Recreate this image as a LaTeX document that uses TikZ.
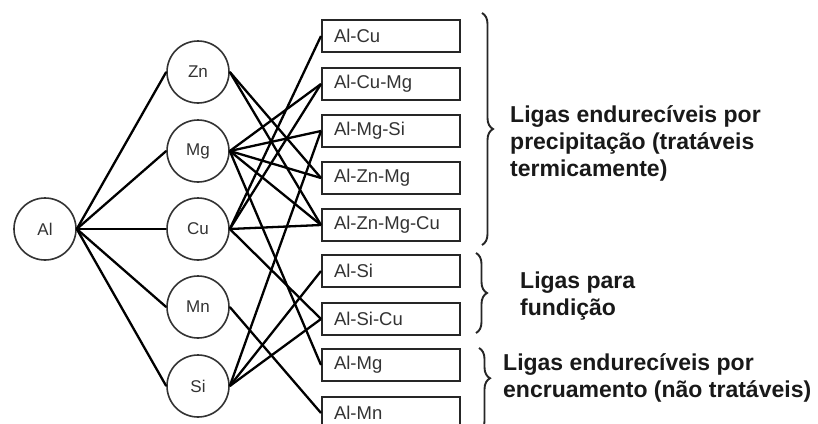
\documentclass[tikz,border=0pt]{standalone}
\usepackage{fontspec}
\setmainfont{Liberation Sans}
\usetikzlibrary{decorations.pathreplacing}
\begin{document}
\begin{tikzpicture}[x=1pt,y=-1pt,
  elem/.style={circle, draw=black!80, line width=1.6pt, minimum size=62pt, inner sep=0pt,
    font=\fontsize{17}{17}\selectfont, text=black!80},
  alloy/.style={draw=black!85, line width=2pt, minimum height=32pt, inner xsep=12pt, inner ysep=0pt,
    text width=114pt, align=left, font=\fontsize{18.5}{19}\selectfont, text=black!80},
  link/.style={line width=2.3pt, black},
  grp/.style={decorate, decoration={brace, amplitude=11pt}, line width=1.9pt, black!85},
  grptext/.style={font=\fontsize{23}{27}\selectfont\bfseries, align=left, anchor=west, inner sep=0pt, text=black!90}
]
\useasboundingbox (0,0) rectangle (818,423);
\fill[white] (0,0) rectangle (818,423);

% elements
\node[elem] (Al) at (45,229) {Al};
\node[elem] (Zn) at (198,72) {Zn};
\node[elem] (Mg) at (198,151) {Mg};
\node[elem] (Cu) at (198,229) {Cu};
\node[elem] (Mn) at (198,307) {Mn};
\node[elem] (Si) at (198,386) {Si};

% alloys
\node[alloy] (AlCu)     at (391,36)  {Al-Cu};
\node[alloy] (AlCuMg)   at (391,84)  {Al-Cu-Mg};
\node[alloy] (AlMgSi)   at (391,131) {Al-Mg-Si};
\node[alloy] (AlZnMg)   at (391,178) {Al-Zn-Mg};
\node[alloy] (AlZnMgCu) at (391,225) {Al-Zn-Mg-Cu};
\node[alloy] (AlSi)     at (391,271) {Al-Si};
\node[alloy] (AlSiCu)   at (391,319) {Al-Si-Cu};
\node[alloy] (AlMg)     at (391,365) {Al-Mg};
\node[alloy] (AlMn)     at (391,413) {Al-Mn};

% Al to elements
\foreach \e in {Zn,Mg,Cu,Mn,Si} \draw[link] (Al.east) -- (\e.west);

% elements to alloys
\draw[link] (Cu.east) -- (AlCu.west);
\draw[link] (Cu.east) -- (AlCuMg.west);
\draw[link] (Mg.east) -- (AlCuMg.west);
\draw[link] (Mg.east) -- (AlMgSi.west);
\draw[link] (Si.east) -- (AlMgSi.west);
\draw[link] (Zn.east) -- (AlZnMg.west);
\draw[link] (Mg.east) -- (AlZnMg.west);
\draw[link] (Zn.east) -- (AlZnMgCu.west);
\draw[link] (Mg.east) -- (AlZnMgCu.west);
\draw[link] (Cu.east) -- (AlZnMgCu.west);
\draw[link] (Si.east) -- (AlSi.west);
\draw[link] (Si.east) -- (AlSiCu.west);
\draw[link] (Cu.east) -- (AlSiCu.west);
\draw[link] (Mg.east) -- (AlMg.west);
\draw[link] (Mn.east) -- (AlMn.west);

% braces
\coordinate (b1t) at (482,13);  \coordinate (b1b) at (482,245);
\coordinate (b2t) at (476,253); \coordinate (b2b) at (476,333);
\coordinate (b3t) at (479,348); \coordinate (b3b) at (479,432);
\draw[grp] (b1t) -- (b1b);
\draw[grp] (b2t) -- (b2b);
\draw[grp, decoration={brace, amplitude=11pt, aspect=0.36}] (b3t) -- (b3b);

% group texts
\node[grptext] (t1) at (510,143) {Ligas endurecíveis por\\precipitação (tratáveis\\termicamente)};
\node[grptext] (t2) at (520,296) {Ligas para\\fundição};
\node[grptext] (t3) at (503,378) {Ligas endurecíveis por\\encruamento (não tratáveis)};
\end{tikzpicture}
\end{document}
